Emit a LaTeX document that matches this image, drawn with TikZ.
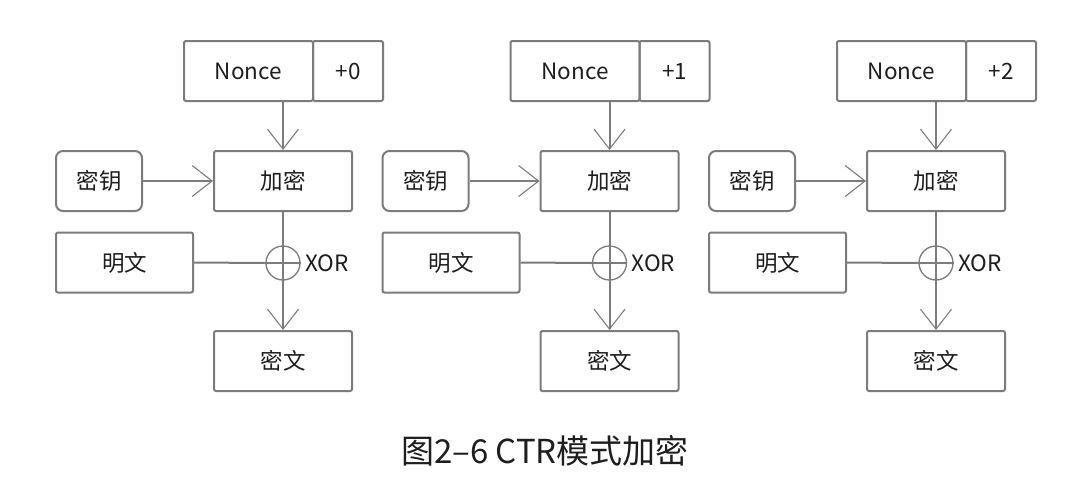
\documentclass[tikz,border=0pt]{standalone}
\usepackage{fontspec}
\setmainfont{Noto Sans CJK SC}
\usetikzlibrary{arrows.meta}
\definecolor{linegray}{HTML}{7C7C7C}
\definecolor{txt}{HTML}{1E1E1E}
\begin{document}
\begin{tikzpicture}[x=1pt,y=-1pt,
  box/.style={draw=linegray, line width=2pt, rounded corners=2pt, minimum height=60pt,
    inner sep=0pt, font=\fontsize{22.5}{22.5}\selectfont, text=txt},
  keybox/.style={box, rounded corners=7pt},
  conn/.style={draw=linegray, line width=2pt},
  arr/.style={conn, -{Straight Barb[length=20pt,width=31pt,line width=1.1pt]}},
  xorsym/.style={circle, draw=linegray, line width=1.3pt, minimum size=34pt, inner sep=0pt},
  lbl/.style={font=\fontsize{22.5}{22.5}\selectfont, text=txt, inner sep=0pt, anchor=west}]
\useasboundingbox[fill=white] (0,0) rectangle (1088,480);
\foreach \i/\p in {0/+0,1/+1,2/+2}{
  \begin{scope}[xshift=\i*326.5pt]
    \node[box, minimum width=129pt] (nonce\i) at (248.5,71) {Nonce};
    \node[box, minimum width=70pt] (plus\i) at (348,71) {\p};
    \node[box, minimum width=138pt] (enc\i) at (283,181) {加密};
    \node[keybox, minimum width=86pt] (key\i) at (99,181) {密钥};
    \node[box, minimum width=137pt] (pt\i) at (124.5,262.5) {明文};
    \node[xorsym] (xor\i) at (283,263) {};
    \node[box, minimum width=138pt] (ct\i) at (283,361) {密文};
    \node[lbl] (xl\i) at (305,263) {XOR};
    \draw[arr] (enc\i.north |- nonce\i.south) -- (enc\i.north);
    \draw[arr] (key\i.east) -- (enc\i.west);
    \draw[conn] (enc\i.south) -- (xor\i.north);
    \draw[conn] (pt\i.east) -- (xor\i.west);
    \draw[linegray, line width=1.3pt] (xor\i.west) -- (xor\i.east);
    \draw[arr] (xor\i.north) -- (ct\i.north);
  \end{scope}
}
\node[font=\fontsize{33}{33}\selectfont, text=txt] (cap) at (545,451) {图2–6 CTR模式加密};
\end{tikzpicture}
\end{document}
